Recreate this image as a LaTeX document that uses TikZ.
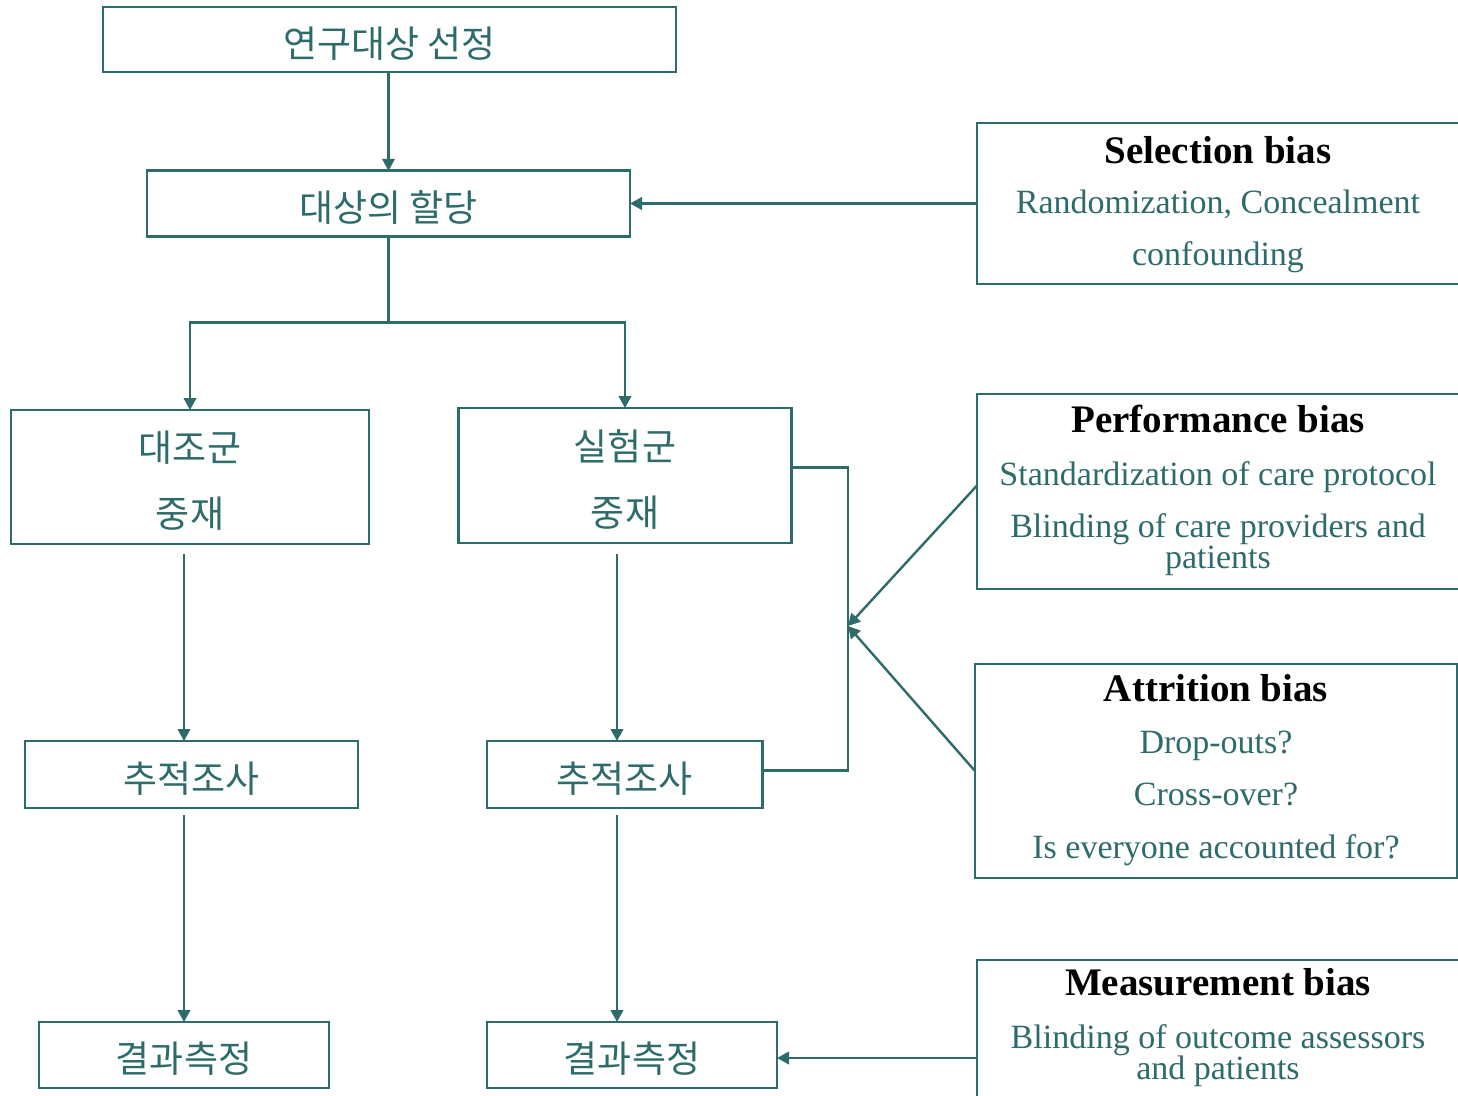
\documentclass[tikz,border=0pt]{standalone}
\usepackage{fontspec}
\setmainfont{Liberation Serif}
\newfontfamily\kr{Noto Sans CJK KR}
\usetikzlibrary{arrows.meta}
\definecolor{teal}{HTML}{2E6B6B}
% Korean labels sit a little low in their boxes (box size kept, ink lowered)
\newcommand{\kl}[1]{\raisebox{-4pt}[\height][\depth]{#1}}
\begin{document}
\begin{tikzpicture}[x=1pt,y=-1pt,
  box/.style={draw=teal, line width=2.9pt, fill=white, inner sep=0pt, outer sep=0pt,
    text=teal, align=center, font=\kr\fontsize{37}{44}\selectfont},
  conn/.style={draw=teal, line width=2.4pt},
  arr/.style={conn, -{Triangle[length=12pt,width=12.5pt]}},
  ttl/.style={anchor=base, inner sep=0pt, text=black, font=\fontsize{39}{44}\selectfont\bfseries},
  txt/.style={anchor=base, inner sep=0pt, text=teal, font=\fontsize{34}{38}\selectfont}]
\useasboundingbox (0,0) rectangle (1458,1095);
\clip (0,0) rectangle (1458,1095);
\fill[white] (0,0) rectangle (1458,1095);

% flow boxes
\node[box, minimum width=573pt, minimum height=65pt] (A) at (389.5,39.5) {\kl{연구대상 선정}};
\node[box, minimum width=483pt, minimum height=66pt] (B) at (388.5,203.8) {\kl{대상의 할당}};
\node[box, minimum width=358pt, minimum height=134pt] (C) at (190,477) {\kl{대조군}\\[22pt]\kl{중재}};
\node[box, minimum width=333pt, minimum height=135pt] (D) at (625,475.5) {\kl{실험군}\\[22pt]\kl{중재}};
\node[box, minimum width=333pt, minimum height=67pt] (E) at (191.5,774.5) {\kl{추적조사}};
\node[box, minimum width=275.5pt, minimum height=67pt] (F) at (624.75,774.5) {\kl{추적조사}};
\node[box, minimum width=290pt, minimum height=66pt] (G) at (184,1055) {\kl{결과측정}};
\node[box, minimum width=290pt, minimum height=66pt] (H) at (632,1055) {\kl{결과측정}};

% bias boxes
\node[box, minimum width=482pt, minimum height=161pt] (S) at (1218,203.5) {};
\node[box, minimum width=482pt, minimum height=195pt] (P) at (1218,491.5) {};
\node[box, minimum width=482pt, minimum height=214pt] (R) at (1216,771) {};
\node[box, minimum width=482pt, minimum height=160pt] (M) at (1218,1040) {};

\node[ttl] (s0) at (1218,163) {Selection bias};
\node[txt] (s1) at (1218,213) {Randomization, Concealment};
\node[txt] (s2) at (1218,265) {confounding};

\node[ttl] (p0) at (1218,432.7) {Performance bias};
\node[txt] (p1) at (1218,485) {Standardization of care protocol};
\node[txt, text depth=0pt] (p2) at (1218,537) {Blinding of care providers and};
\node[txt] (p3) at (1218,568) {patients};

\node[ttl] (r0) at (1216,701.7) {Attrition bias};
\node[txt] (r1) at (1216,753) {Drop-outs?};
\node[txt] (r2) at (1216,805) {Cross-over?};
\node[txt] (r3) at (1216,858) {Is everyone accounted for?};

\node[ttl] (m0) at (1218,995) {Measurement bias};
\node[txt, text depth=0pt] (m1) at (1218,1048) {Blinding of outcome assessors};
\node[txt] (m2) at (1218,1079) {and patients};

% connectors
\coordinate (j) at (388.5,322.5);
\coordinate (k) at (848,626);
\draw[arr] (A.south -| B.north) -- (B.north);
\draw[arr] (S.west) -- (S.west -| B.east);
\draw[conn] (B.south) -- (j);
\draw[arr] (j) -| (C.north);
\draw[arr] (j) -| (D.north);
\draw[arr] ([xshift=-6pt,yshift=-10pt]C.south) -- ([xshift=-6pt]C.south |- E.north);
\draw[arr] ([yshift=-7pt]E.south -| G.north) -- (G.north);
\draw[arr] ([xshift=-8pt,yshift=-11pt]D.south) -- ([xshift=-8pt]D.south |- F.north);
\draw[arr] ([xshift=-7.75pt,yshift=-7pt]F.south) -- ([xshift=-7.75pt]F.south |- H.north);
\draw[conn] ([yshift=8pt]D.east) -| (k) |- ([yshift=4pt]F.east);
\draw[arr] ([yshift=6pt]P.west) -- (k);
\draw[arr] (R.west) -- (k);
\draw[arr] ([yshift=-3pt]H.east -| M.west) -- ([yshift=-3pt]H.east);
\end{tikzpicture}
\end{document}
